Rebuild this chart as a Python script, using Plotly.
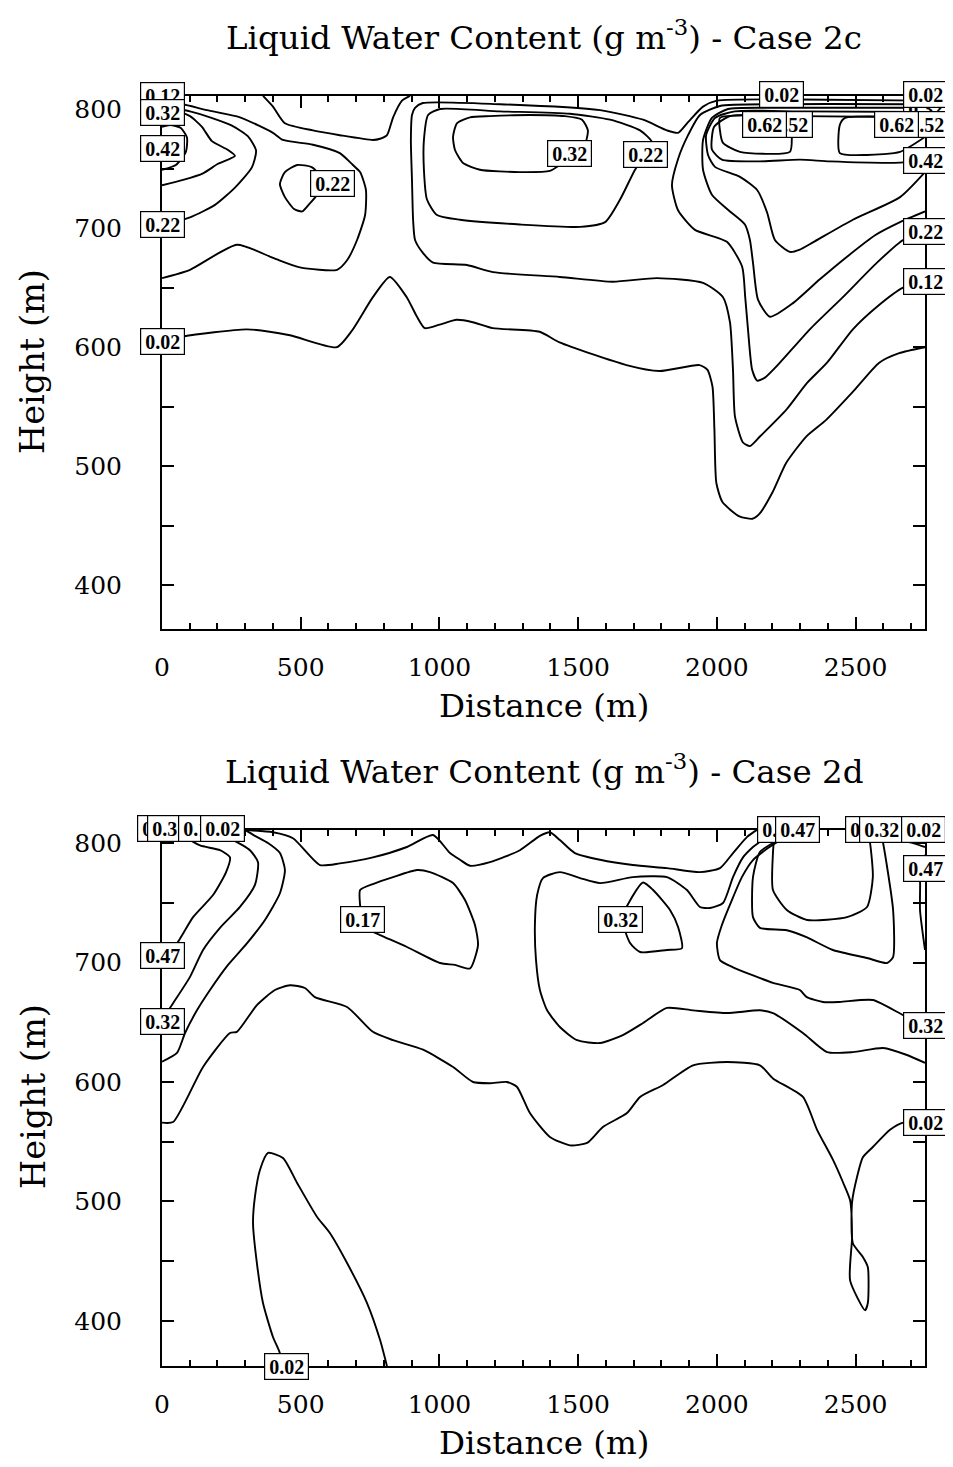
import plotly.graph_objects as go

# ================= Case 2c : contour lines (distance m, height m) =================
c2c_002a_x = [0,76,306,461,630,688,760,821,882,918,947,1001,1062,1120,1192,1361,1433,1674,1793,1937,1966,1984,1991,1998,2020,2081,2128,2153,2200,2250,2322,2394,2488,2585,2657,2750]
c2c_002a_y = [605,609,615,610,600,615,642,659,642,626,616,619,623,621,616,613,604,585,580,585,581,567,531,486,470,458,456,460,478,503,525,539,562,587,595,600]
c2c_002b_x = [364,400,443,544,641,760,786,811,833,865,894]
c2c_002b_y = [811,802,788,782,778,774,775,778,793,807,811]
c2c_012a_x = [0,101,270,400,497,631,667,703,732,735,714,688,641,544,436,400,281,162,76,0]
c2c_012a_y = [658,665,686,675,667,665,673,690,711,732,747,753,763,770,774,780,793,799,804,807]
c2c_012b_x = [2750,2299,2000,1950,1896,1860,1820,1734,1579,1218,940,912,901,897,901,905,912,941,977,1099,1193,1434,1625,1784,1950,2022,2047,2058,2065,2094,2119,2155,2252,2325,2397,2490,2577,2671,2750]
c2c_012b_y = [807,808,807,802,789,780,782,791,799,804,805,801,795,774,740,707,690,679,671,669,663,659,655,658,654,642,621,581,542,520,517,525,548,570,587,615,634,650,655]
c2c_022a_x = [0,101,191,263,324,339,310,252,173,101,0]
c2c_022a_y = [702,709,719.5,734,751,765,777,786,793,798,802.5]
c2c_022b_x = [443,487,541,577,559,530,505,476,443,425,443]
c2c_022b_y = [747,753,751,741,728,720,714,716,726,737,747]
c2c_032a_x = [0,76,148,202,263,238,180,144,101,65,0]
c2c_032a_y = [736,740.5,746,754,760.6,765.6,773,785,794,797,797]
c2c_042a_x = [0,50,86,90,68,29,0]
c2c_042a_y = [749,753,764,776,784,786.6,785]
c2c_022c_x = [1002,959,944,944,955,991,1074,1290,1507,1597,1651,1705,1741,1766,1723,1615,1470,1218,1002]
c2c_022c_y = [800,795,774,749,724,711,707,703,701,705,724,749,761,772,782,791,796,798,800]
c2c_032b_x = [1182,1110,1063,1049,1056,1085,1146,1290,1398,1434,1488,1524,1535,1514,1452,1326,1182]
c2c_032b_y = [794,793,788,776.5,765.6,754.7,749,747,748,753,761.4,770,782,791,794,795,794]
c2c_022d_x = [2750,2227,2011,1939,1896,1860,1838,1860,1921,2036,2091,2102,2112,2127,2145,2173,2227,2335,2454,2577,2671,2750]
c2c_022d_y = [804,804,802.5,795,778,758,736,715,698.5,688.5,667.5,642,615,581,572,574.5,587,615,642,671,690,697]
c2c_032c_x = [2750,2227,2040,1982,1950,1950,1982,2047,2101,2119,2130,2148,2191,2274,2371,2469,2570,2660,2750]
c2c_032c_y = [801,801,800,792.5,774,749,728,714,703,690,671,640,625.6,637,657,676,694,705,714]
c2c_042b_x = [2750,2299,2065,1993,1961,1968,1993,2083,2145,2181,2209,2263,2299,2346,2490,2660,2750]
c2c_042b_y = [797.5,798,798,792.5,778,761.4,751.4,743,732,713,690,680,682,688,707,726,747]
c2c_052_x = [2750,2299,2047,1990,1982,2018,2155,2299,2407,2660,2750]
c2c_052_y = [793,794,794,785,766,757.5,756,757.5,756,755,757.5]
c2c_062a_x = [2011,2011,2022,2083,2263,2270,2263,2011]
c2c_062a_y = [792.5,782,771.5,764,764,776.5,791,792.5]
c2c_062b_x = [2750,2462,2443,2443,2541,2660,2750]
c2c_062b_y = [792.5,792.5,786.6,763,761.4,764,776.5]

# inline contour labels: text, position (m), and small pixel nudges for labels sitting on the frame
c2c_label_text = ["0.12","0.32","0.42","0.22","0.02","0.22","0.32","0.22","0.32","0.02","0.02","0.52","0.62","0.52","0.62","0.42","0.22","0.12"]
c2c_label_x = [0,0,0,0,0,613,1470,1741,2750,2234,2750,2265,2170,2750,2649,2750,2750,2750]
c2c_label_y = [810.5,797,767,702.7,604.6,737.7,763,762,800.8,810.5,810.5,786.6,786.6,786.6,786.6,757,697,655]
c2c_label_dx = [0,0,0,0,0,0,0,0,0,0,0,0,0,1.5,0,0,0,0]
c2c_label_dy = [0.5,0,0,0,0,0,0,0,0,1.5,1.5,0,0,0,0,0,0,0]

# ================= Case 2d : contour lines =================
c2d_002a_x = [0,40,148,245,270,342,407,461,515,551,667,760,833,941,1049,1121,1182,1243,1279,1326,1398,1470,1532,1589,1676,1723,1806,1914,2036,2155,2202,2310,2361,2418,2454,2480,2487,2480,2534,2544,2544,2526,2490,2487,2505,2526,2562,2624,2671,2750]
c2d_002a_y = [566,566.5,612.6,641,642,664.4,677,681,678.7,671,662.8,642,635,627,612.6,600,599,600,596,574,554,547,549,562.4,574,587.5,597.5,614,616.7,614,603,587.5,560,535,516.3,501,470,434,409,415,445,453.6,465,499,520.5,537,545.6,560,566,566]
c2d_002b_x = [432,425,400,364,342,328,335,353,382,436,487,559,605,667,739,786,811]
c2d_002b_y = [362,373,386.6,415,448.5,482,504,526.4,540.6,536.4,515.5,487,473.6,448.5,415,384,362]
c2d_002c_x = [292,400,472,569,641,760,883,977,1038,1074,1110,1182,1290,1362,1398,1434,1488,1579,1697,1820,1939,2011,2058,2108,2144]
c2d_002c_y = [811,809,804,781.6,783,788,796.7,806.7,791.6,786,781,784,794,806,809,802.5,791.6,786,781.6,779,775.7,779,791.6,805,811]
c2d_002d_x = [2660,2707,2750]
c2d_002d_y = [802.5,800,796.7]
c2d_017a_x = [0,54,83,126,173,238,306,371,425,443,425,382,335,299]
c2d_017a_y = [617,624.3,641,660,677,698,716,735.6,758,777.4,791.6,800,806,811]
c2d_017b_x = [714,760,833,919,966,1049,1092,1128,1139,1110,1056,1002,883,786,750,721,714,714]
c2d_017b_y = [760.7,765.7,771.5,777.4,775.7,766.5,752.3,731.4,714.6,695,698,699.6,713,723,727,737,748,760.7]
c2d_017c_x = [2750,2685,2599,2490,2397,2310,2202,2155,2036,1914,1820,1734,1661,1579,1496,1434,1388,1362,1348,1344,1352,1373,1434,1507,1579,1697,1820,1892,1939,1975,2022,2058,2094,2130,2162,2184]
c2d_017c_y = [616,622.6,628.5,625,625,641,657.7,660,657.7,660,662,649.4,639.3,632.6,635,646,660,677,702,731.4,756.5,770.7,775.7,770.7,766.5,771.5,771.5,760.7,746.5,745.6,749.8,771.5,788,796.7,802.5,811]
c2d_032a_x = [0,40,101,148,209,281,335,346,317,263,191,137]
c2d_032a_y = [652,666,688,710.5,729,746.5,765,784,794,801.7,806.7,811]
c2d_032b_x = [1658,1687,1734,1770,1831,1860,1874,1820,1723,1687,1658]
c2d_032b_y = [737,752,767,760.7,744,729.7,712,710.5,708.8,716.3,737]
c2d_032c_x = [2750,2671,2562,2443,2382,2324,2299,2202,2058,2011,2000,2018,2054,2090,2130,2184,2227,2256]
c2d_032c_y = [647.7,656,668.6,667,667,671,677,683,696,702,716.3,731.4,752.3,771.5,785.8,795.8,802.5,811]
c2d_032d_x = [2281,2209,2155,2130,2130,2155,2252,2325,2418,2541,2613,2635,2635,2599,2588]
c2d_032d_y = [811,801,792.5,771.5,738,729,727,721,710.5,703.8,699.6,704.6,744,800,811]
c2d_047a_x = [0,54,112,184,231,245,209,137,94,76]
c2d_047a_y = [702,716,738,756.5,775.7,788,794,798,804,811]
c2d_047b_x = [2209,2202,2202,2252,2325,2469,2541,2562,2552,2541]
c2d_047b_y = [811,791.6,760.7,744,735.6,738,746.5,771.5,800,811]
c2d_047c_x = [2750,2725,2732,2732,2750]
c2d_047c_y = [790,777.4,769,744,710.5]

c2d_label_text = ["0.47","0.32","0.17","0.02","0.47","0.32","0.17","0.32","0.02","0.17","0.47","0.17","0.32","0.02","0.47","0.32","0.02"]
c2d_label_x = [0,27,140,218,0,0,722,1654,447,2227,2290,2544,2593,2746,2750,2750,2750]
c2d_label_y = [811,811,811,811,706.3,650.6,736.4,735.6,362.5,811,811,811,811,811,778.7,647,566]
c2d_label_dx = [-2.5,0,0,0,0,0,0,0,0,0,0,0,0,0,0,0,0]
c2d_label_dy = [1,1,1,1,0,0,0,0,-0.5,0,0,0,0,0,0,0,0]

x_tick_vals = [0, 500, 1000, 1500, 2000, 2500]
y_tick_vals = [400, 500, 600, 700, 800]
titles = ["Liquid Water Content (g m<sup>-3</sup>) - Case 2c",
          "Liquid Water Content (g m<sup>-3</sup>) - Case 2d"]

c2c_lines = [
    (c2c_002a_x, c2c_002a_y), (c2c_002b_x, c2c_002b_y), (c2c_012a_x, c2c_012a_y),
    (c2c_012b_x, c2c_012b_y), (c2c_022a_x, c2c_022a_y), (c2c_022b_x, c2c_022b_y),
    (c2c_032a_x, c2c_032a_y), (c2c_042a_x, c2c_042a_y), (c2c_022c_x, c2c_022c_y),
    (c2c_032b_x, c2c_032b_y), (c2c_022d_x, c2c_022d_y), (c2c_032c_x, c2c_032c_y),
    (c2c_042b_x, c2c_042b_y), (c2c_052_x, c2c_052_y), (c2c_062a_x, c2c_062a_y),
    (c2c_062b_x, c2c_062b_y),
]
c2d_lines = [
    (c2d_002a_x, c2d_002a_y), (c2d_002b_x, c2d_002b_y), (c2d_002c_x, c2d_002c_y),
    (c2d_002d_x, c2d_002d_y), (c2d_017a_x, c2d_017a_y), (c2d_017b_x, c2d_017b_y),
    (c2d_017c_x, c2d_017c_y), (c2d_032a_x, c2d_032a_y), (c2d_032b_x, c2d_032b_y),
    (c2d_032c_x, c2d_032c_y), (c2d_032d_x, c2d_032d_y), (c2d_047a_x, c2d_047a_y),
    (c2d_047b_x, c2d_047b_y), (c2d_047c_x, c2d_047c_y),
]

fig = go.Figure()
LINE = dict(color="black", width=1.9, shape="spline", smoothing=0.6)
for xs, ys in c2c_lines:
    fig.add_trace(go.Scatter(x=xs, y=ys, mode="lines", line=LINE, xaxis="x", yaxis="y",
                             hoverinfo="skip", showlegend=False))
for xs, ys in c2d_lines:
    fig.add_trace(go.Scatter(x=xs, y=ys, mode="lines", line=LINE, xaxis="x2", yaxis="y2",
                             hoverinfo="skip", showlegend=False))

SERIF = "DejaVu Serif"
annotations = []
def add_labels(texts, xs, ys, dxs, dys, xref, yref):
    for t, x, y, dx, dy in zip(texts, xs, ys, dxs, dys):
        annotations.append(dict(
            text="<b>" + t + "</b>", x=x, y=y, xref=xref, yref=yref, showarrow=False,
            xanchor="center", yanchor="middle", xshift=dx, yshift=dy,
            bgcolor="white", bordercolor="black",
            borderwidth=1.2, borderpad=3, width=37, height=19,
            font=dict(family="Liberation Serif", size=20, color="black")))
add_labels(c2c_label_text, c2c_label_x, c2c_label_y, c2c_label_dx, c2c_label_dy, "x", "y")
add_labels(c2d_label_text, c2d_label_x, c2d_label_y, c2d_label_dx, c2d_label_dy, "x2", "y2")

for ty, txt in zip([1.0475, 0.4700], titles):
    annotations.append(dict(text=txt, x=0.5, y=ty, xref="paper", yref="paper", showarrow=False,
                            xanchor="center", yanchor="middle",
                            font=dict(family=SERIF, size=32.5, color="black")))
for ty in [0.5197, -0.0606]:
    annotations.append(dict(text="Distance (m)", x=0.5, y=ty, xref="paper", yref="paper",
                            showarrow=False, xanchor="center", yanchor="middle",
                            font=dict(family=SERIF, size=32.5, color="black")))
for ty in [0.7906, 0.2118]:
    annotations.append(dict(text="Height (m)", x=-0.169, y=ty, xref="paper", yref="paper",
                            showarrow=False, xanchor="center", yanchor="middle", textangle=-90,
                            font=dict(family=SERIF, size=33.5, color="black")))

def xaxis_style(anchor):
    return dict(range=[0, 2750], tickvals=x_tick_vals, ticks="inside", ticklen=12, tickwidth=1.5,
                tickcolor="black", showline=True, linewidth=2, linecolor="black", mirror="ticks",
                showgrid=False, zeroline=False, anchor=anchor, ticklabelstandoff=15,
                tickfont=dict(family=SERIF, size=25, color="black"),
                minor=dict(dtick=100, tick0=0, ticks="inside", ticklen=6, tickwidth=1.5,
                           tickcolor="black", showgrid=False))

def yaxis_style(anchor, rng, domain):
    return dict(range=rng, domain=domain, tickvals=y_tick_vals, ticks="inside", ticklen=12,
                tickwidth=1.5, tickcolor="black", showline=True, linewidth=2, linecolor="black",
                mirror="ticks", showgrid=False, zeroline=False, anchor=anchor,
                ticklabelstandoff=33, tickfont=dict(family=SERIF, size=25, color="black"),
                minor=dict(dtick=50, tick0=0, ticks="inside", ticklen=12, tickwidth=1.5,
                           tickcolor="black", showgrid=False))

# the page adds an 8px body margin, so the figure is 8px smaller and margins shifted
fig.update_layout(
    width=945, height=1459, margin=dict(l=154, r=28, t=88, b=101),
    paper_bgcolor="white", plot_bgcolor="white", showlegend=False,
    xaxis=xaxis_style("y"), yaxis=yaxis_style("x", [363.2, 810.9], [0.5801, 1.0]),
    xaxis2=xaxis_style("y2"), yaxis2=yaxis_style("x2", [362.3, 811.3], [0.0, 0.4224]),
    annotations=annotations,
)
fig.write_html("out.html")
